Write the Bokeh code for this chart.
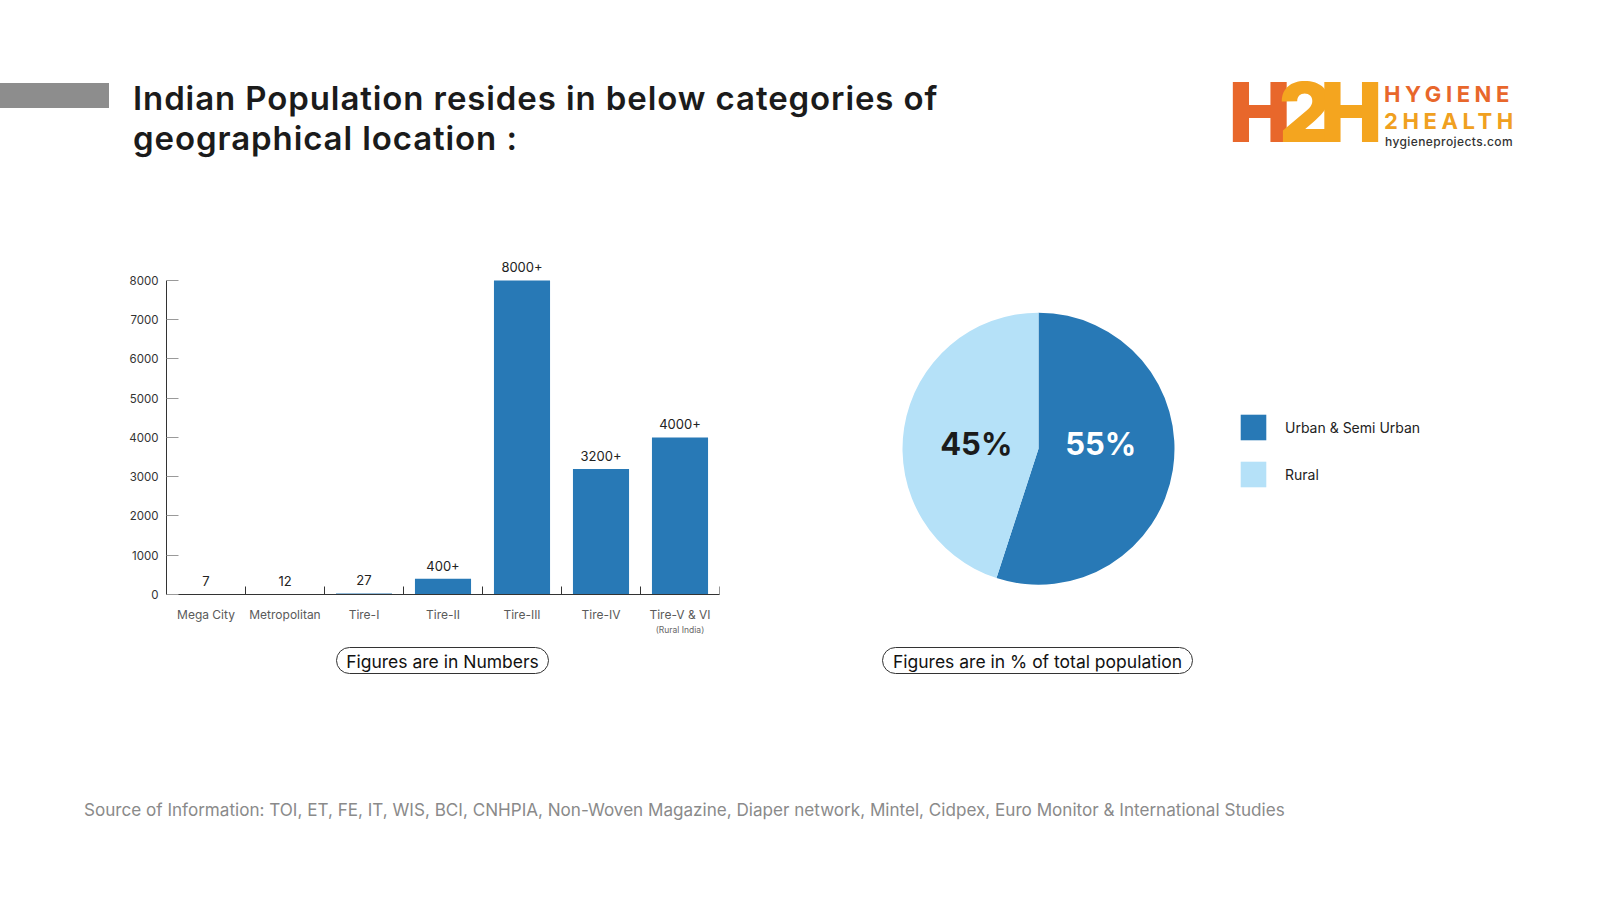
import numpy as np
from bokeh.plotting import figure
from bokeh.models import (ColumnDataSource, Range1d, FixedTicker, Div, Legend, LegendItem,
                          CategoricalAxis, CustomJSTickFormatter)
from bokeh.layouts import column, row
from bokeh.transform import dodge
from bokeh.core.properties import value
from bokeh.embed import file_html
from bokeh.resources import INLINE

# ---------------- data ----------------
categories = ["Mega City", "Metropolitan", "Tire-I", "Tire-II", "Tire-III", "Tire-IV", "Tire-V & VI"]
counts = [7, 12, 27, 400, 8000, 3200, 4000]
count_labels = ["7", "12", "27", "400+", "8000+", "3200+", "4000+"]
y_ticks = [0, 1000, 2000, 3000, 4000, 5000, 6000, 7000, 8000]
sub_labels = ["", "", "", "", "", "", "(Rural India)"]

segments = ["Urban & Semi Urban", "Rural"]
shares = [55, 45]
share_labels = ["55%", "45%"]

BLUE = "#2879b6"
LIGHT = "#b5e1f8"
FONT = "Inter"

# ---------------- header ----------------
header_html = f"""
<div style="position:relative;width:1600px;height:200px;overflow:hidden;font-family:{FONT};">
  <div style="position:absolute;left:0;top:83px;width:109px;height:25px;background:#8d8d8d;"></div>
  <div style="position:absolute;left:133px;top:78px;font-weight:600;font-size:33px;line-height:40px;letter-spacing:0.9px;color:#1b1b1b;white-space:nowrap;">
    Indian Population resides in below categories of<br>geographical location :
  </div>
  <div style="position:absolute;left:1229px;top:68px;font-weight:900;font-size:82px;line-height:90px;letter-spacing:-11.5px;white-space:nowrap;">
    <span style="color:#e8672b;">H</span><span style="color:#f4a51f;">2H</span>
  </div>
  <div style="position:absolute;left:1384px;top:81px;font-weight:700;font-size:22px;line-height:26px;letter-spacing:4.6px;color:#e8672b;white-space:nowrap;">HYGIENE</div>
  <div style="position:absolute;left:1384px;top:108px;font-weight:700;font-size:22px;line-height:26px;letter-spacing:4.6px;color:#f0a020;white-space:nowrap;">2HEALTH</div>
  <div style="position:absolute;left:1385px;top:135px;font-weight:500;font-size:12px;line-height:14px;letter-spacing:0.4px;color:#333;white-space:nowrap;">hygieneprojects.com</div>
</div>
"""
header = Div(text=header_html, width=1600, height=200, margin=0)

# ---------------- bar chart ----------------
src = ColumnDataSource(dict(cat=categories, val=counts, lab=count_labels))
p = figure(x_range=categories, y_range=Range1d(0, 8764), width=800, height=440,
           output_backend="svg", toolbar_location=None,
           min_border_left=166, min_border_right=81, min_border_top=50, min_border_bottom=46)
p.vbar(x="cat", top="val", width=0.71, source=src, color=BLUE, line_color=None)
p.text(x="cat", y="val", text="lab", source=src, text_align="center", text_baseline="bottom",
       y_offset=-8, text_font=value(FONT), text_font_size="13px", text_color="#222222")
# category separator ticks on the x axis
p.scatter(x=dodge("cat", 0.5, range=p.x_range), y=0, source=src, marker="dash", angle=np.pi / 2,
          size=16, line_color="#333333", line_width=1)

p.xgrid.visible = False
p.ygrid.visible = False
p.outline_line_color = None

ya = p.yaxis[0]
ya.ticker = FixedTicker(ticks=y_ticks)
ya.bounds = (0, 8000)
ya.major_tick_in = 12
ya.major_tick_out = 0
ya.minor_tick_line_color = None
ya.major_tick_line_color = "#9a9a9a"
ya.axis_line_color = "#333333"
ya.major_label_text_font = FONT
ya.major_label_text_font_size = "11.5px"
ya.major_label_text_color = "#333333"
ya.major_label_standoff = 8

xa = p.xaxis[0]
xa.major_tick_in = 0
xa.major_tick_out = 0
xa.axis_line_color = "#333333"
xa.major_label_text_font = FONT
xa.major_label_text_font_size = "12px"
xa.major_label_text_color = "#5a5a5a"
xa.major_label_standoff = 12

# second line of category labels
sub_map = dict(zip(categories, sub_labels))
xa2 = CategoricalAxis(major_tick_in=0, major_tick_out=0, axis_line_color=None,
                      major_label_standoff=0, major_label_text_font=FONT,
                      major_label_text_font_size="8.5px", major_label_text_color="#666666",
                      formatter=CustomJSTickFormatter(args=dict(m=sub_map),
                                                      code="const v = m.get ? m.get(tick) : m[tick]; return v || '';"))
p.add_layout(xa2, "below")

# ---------------- pie chart ----------------
frac = np.array(shares, dtype=float) / sum(shares)
cum = np.concatenate([[0], np.cumsum(frac)])
start = np.pi / 2 - cum[:-1] * 2 * np.pi
end = np.pi / 2 - cum[1:] * 2 * np.pi
mid = (cum[:-1] + cum[1:]) / 2 * 2 * np.pi  # clockwise from top

cx, cy, R = 238, 186.5, 136
psrc = ColumnDataSource(dict(seg=segments, share=shares, start=start, end=end,
                             color=[BLUE, LIGHT],
                             lx=cx + 63 * np.sin(mid), ly=[cy + 7] * len(shares),
                             lab=share_labels, tcol=["#ffffff", "#1b1b1b"]))

q = figure(width=800, height=440, x_range=Range1d(0, 800), y_range=Range1d(0, 440),
           output_backend="svg", toolbar_location=None, min_border=0,
           x_axis_location=None, y_axis_location=None)
q.xgrid.visible = False
q.ygrid.visible = False
q.outline_line_color = None
w = q.wedge(x=cx, y=cy, radius=R, start_angle="start", end_angle="end", direction="clock",
            fill_color="color", line_color=None, source=psrc)
q.text(x="lx", y="ly", text="lab", text_color="tcol", source=psrc, text_align="center",
       text_baseline="middle", text_font=value(FONT), text_font_style="bold", text_font_size="31px")

legend = Legend(items=[LegendItem(label=value(segments[i]), renderers=[w], index=i) for i in range(len(segments))],
                location=(437, 104), glyph_width=32, glyph_height=32, spacing=15, label_standoff=16,
                padding=0, margin=0, border_line_color=None, background_fill_alpha=0,
                label_text_font=FONT, label_text_font_size="14px", label_text_color="#222222")
q.add_layout(legend)

# ---------------- notes & source ----------------
pill = ("position:absolute;top:7px;height:27px;border:1.3px solid #333;border-radius:15px;"
        "font-size:17.5px;line-height:27px;text-align:center;color:#111;white-space:nowrap;")
footer_html = f"""
<div style="position:relative;width:1600px;height:260px;overflow:hidden;font-family:{FONT};">
  <div style="{pill}left:336px;width:213px;">Figures are in Numbers</div>
  <div style="{pill}left:882px;width:311px;">Figures are in % of total population</div>
  <div style="position:absolute;left:84px;top:158px;font-size:17.1px;line-height:24px;color:#8a8a8a;white-space:nowrap;">
    Source of Information: TOI, ET, FE, IT, WIS, BCI, CNHPIA, Non-Woven Magazine, Diaper network, Mintel, Cidpex, Euro Monitor &amp; International Studies
  </div>
</div>
"""
footer = Div(text=footer_html, width=1600, height=260, margin=0)

layout = column(header, row(p, q, spacing=0), footer, spacing=0)
open("out.html", "w").write(file_html(layout, INLINE))
